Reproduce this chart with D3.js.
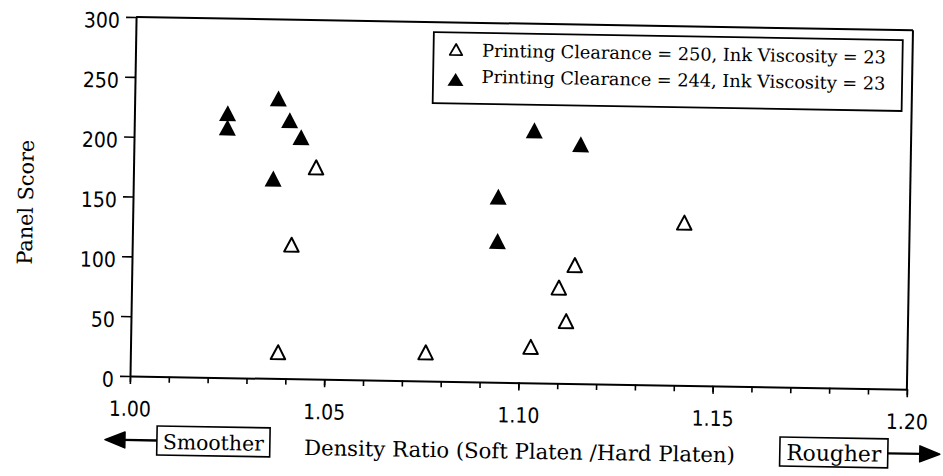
<!DOCTYPE html>
<html>
<head>
<meta charset="utf-8">
<script src="https://cdn.jsdelivr.net/npm/d3@7"></script>
<style>
  html, body { margin: 0; padding: 0; background: #fff; }
  svg { display: block; background: #fff; }
  .tick-num { font-family: "DejaVu Sans Condensed", "DejaVu Sans", sans-serif; font-stretch: condensed; font-size: 21px; fill: #000; }
  .serif { font-family: "DejaVu Serif", "Liberation Serif", serif; fill: #000; }
</style>
</head>
<body>
<svg id="chart" width="943" height="476"></svg>
<script>
// Axis ticks
const xTickValues = [1.00, 1.05, 1.10, 1.15, 1.20];
const yTickValues = [0, 50, 100, 150, 200, 250, 300];

// Series labels
const seriesLabels = [
  "Printing Clearance = 250, Ink Viscosity = 23",
  "Printing Clearance = 244, Ink Viscosity = 23"
];

// Printing clearance 250 (open triangles)
const clear250Ratio = [1.047, 1.041, 1.038, 1.076, 1.103, 1.110, 1.112, 1.114, 1.142];
const clear250Score = [177, 112, 22, 24, 30, 80, 52, 99, 136];

// Printing clearance 244 (filled triangles)
const clear244Ratio = [1.024, 1.024, 1.037, 1.040, 1.043, 1.036, 1.103, 1.115, 1.094, 1.094];
const clear244Score = [221, 209, 234, 216, 202, 167, 211, 200, 155, 118];

const xTitle = "Density Ratio (Soft Platen /Hard Platen)";
const yTitle = "Panel Score";
const leftNote = "Smoother";
const rightNote = "Rougher";

// ---- layout ----
const plot = { left: 130, right: 907, top: 17, bottom: 376 };

const x = d3.scaleLinear().domain([1.0, 1.2]).range([plot.left, plot.right]);
const y = d3.scaleLinear().domain([0, 300]).range([plot.bottom, plot.top]);

const svg = d3.select("#chart");
// the whole sheet sits at a slight clockwise tilt
const page = svg.append("g").attr("transform", `rotate(0.97, ${plot.left}, ${plot.bottom})`);

// scale a text's font size so it spans a given width
function fitWidth(sel, target) {
  const node = sel.node();
  const fs = parseFloat(getComputedStyle(node).fontSize);
  const w = node.getComputedTextLength();
  sel.style("font-size", (fs * target / w) + "px");
  return fs * target / w;
}

// triangle path centred on its bounding box
function tri(w, h) {
  return `M0,${-h / 2}L${w / 2},${h / 2}L${-w / 2},${h / 2}Z`;
}

// ---- frame ----
page.append("line")
  .attr("x1", plot.left).attr("x2", plot.right)
  .attr("y1", plot.top).attr("y2", plot.top)
  .attr("stroke", "#000").attr("stroke-width", 2);
page.append("line")
  .attr("x1", plot.right).attr("x2", plot.right)
  .attr("y1", plot.top).attr("y2", plot.bottom)
  .attr("stroke", "#000").attr("stroke-width", 2);

// ---- x axis: minor ticks every 0.01, labels every 0.05 ----
const xMinor = page.append("g")
  .attr("transform", `translate(0,${plot.bottom})`)
  .call(d3.axisBottom(x).ticks(20).tickSize(6).tickSizeOuter(0).tickFormat(""));
xMinor.selectAll(".tick line").attr("stroke", "#000").attr("stroke-width", 1.6);
xMinor.select(".domain").attr("stroke", "#000").attr("stroke-width", 2);

const xAxis = page.append("g")
  .attr("transform", `translate(0,${plot.bottom})`)
  .call(d3.axisBottom(x).tickValues(xTickValues).tickSize(8).tickSizeOuter(0).tickFormat(d3.format(".2f")));
xAxis.select(".domain").remove();
xAxis.selectAll(".tick line").attr("stroke", "#000").attr("stroke-width", 1.6);
xAxis.selectAll(".tick text")
  .attr("class", "tick-num")
  .attr("font-family", null).attr("font-size", null)
  .attr("y", 40).attr("dy", 0);

// ---- y axis ----
const yAxis = page.append("g")
  .attr("transform", `translate(${plot.left},0)`)
  .call(d3.axisLeft(y).tickValues(yTickValues).tickSize(10).tickSizeOuter(0).tickFormat(d3.format("d")));
yAxis.select(".domain").attr("stroke", "#000").attr("stroke-width", 2);
yAxis.selectAll(".tick line").attr("stroke", "#000").attr("stroke-width", 1.6);
yAxis.selectAll(".tick text")
  .attr("class", "tick-num")
  .attr("font-family", null).attr("font-size", null)
  .attr("x", -16).attr("y", 10.5).attr("dy", 0);

// ---- points ----
const open250 = clear250Ratio.map((r, i) => ({ r, s: clear250Score[i] }));
const fill244 = clear244Ratio.map((r, i) => ({ r, s: clear244Score[i] }));

page.append("g").selectAll("path").data(fill244).join("path")
  .attr("d", tri(17, 16))
  .attr("transform", d => `translate(${x(d.r)},${y(d.s)})`)
  .attr("fill", "#000");

page.append("g").selectAll("path").data(open250).join("path")
  .attr("d", tri(14.5, 14))
  .attr("transform", d => `translate(${x(d.r)},${y(d.s)})`)
  .attr("fill", "#fff").attr("stroke", "#000").attr("stroke-width", 2)
  .attr("stroke-linejoin", "round");

// ---- legend ----
const legend = page.append("g");
legend.append("rect")
  .attr("x", 428).attr("y", 27).attr("width", 469).attr("height", 71)
  .attr("fill", "#fff").attr("stroke", "#000").attr("stroke-width", 1.8);

legend.append("path").attr("d", tri(12.5, 11))
  .attr("transform", "translate(450.5,44)")
  .attr("fill", "#fff").attr("stroke", "#000").attr("stroke-width", 1.8).attr("stroke-linejoin", "round");
legend.append("path").attr("d", tri(16, 13))
  .attr("transform", "translate(450.5,74)")
  .attr("fill", "#000");

const leg1 = legend.append("text").attr("class", "serif")
  .attr("x", 476.6).attr("y", 50.8).style("font-size", "17px").text(seriesLabels[0]);
const legSize = fitWidth(leg1, 404);
legend.append("text").attr("class", "serif")
  .attr("x", 476.6).attr("y", 77).style("font-size", legSize + "px").text(seriesLabels[1]);

// ---- axis titles ----
const yt = page.append("text").attr("class", "serif")
  .attr("transform", "translate(30,204) rotate(-90)")
  .attr("text-anchor", "middle").style("font-size", "19px").text(yTitle);
fitWidth(yt, 125);

const xt = page.append("text").attr("class", "serif")
  .attr("x", 520.7).attr("y", 452)
  .attr("text-anchor", "middle").style("font-size", "18px").text(xTitle);
fitWidth(xt, 431);

// ---- direction notes with arrows ----
function note(box, label, labelWidth, tipX) {
  const g = page.append("g");
  g.append("rect")
    .attr("x", box.x).attr("y", box.y).attr("width", box.w).attr("height", box.h)
    .attr("fill", "#fff").attr("stroke", "#000").attr("stroke-width", 1.6);
  const t = g.append("text").attr("class", "serif")
    .attr("x", box.x + box.w / 2).attr("y", box.y + 23)
    .attr("text-anchor", "middle").style("font-size", "18px").text(label);
  fitWidth(t, labelWidth);
  const midY = box.y + box.h / 2;
  const fromX = tipX < box.x ? box.x : box.x + box.w;
  const dir = tipX < box.x ? -1 : 1;
  const headLen = 20, headHalf = 8;
  g.append("line")
    .attr("x1", fromX).attr("x2", tipX - dir * headLen + dir * 2)
    .attr("y1", midY).attr("y2", midY)
    .attr("stroke", "#000").attr("stroke-width", 2.4);
  g.append("path")
    .attr("d", `M${tipX},${midY}L${tipX - dir * headLen},${midY - headHalf}L${tipX - dir * headLen},${midY + headHalf}Z`)
    .attr("fill", "#000").attr("stroke", "#000").attr("stroke-width", 1.5).attr("stroke-linejoin", "round");
}
note({ x: 158, y: 425.5, w: 113, h: 29 }, leftNote, 101, 106);
note({ x: 781, y: 426, w: 108, h: 29 }, rightNote, 95, 941);
</script>
</body>
</html>
